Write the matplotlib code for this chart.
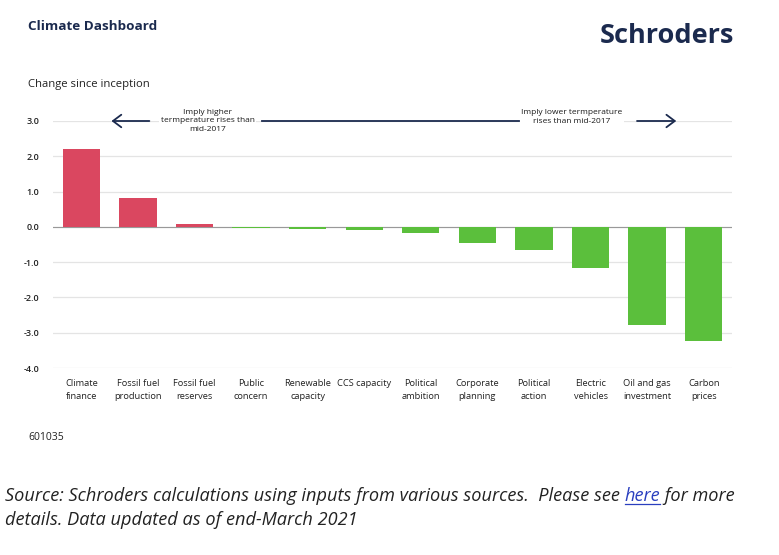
import matplotlib
matplotlib.use("Agg")
import matplotlib.pyplot as plt

categories = ["Climate\nfinance", "Fossil fuel\nproduction", "Fossil fuel\nreserves", "Public\nconcern",
              "Renewable\ncapacity", "CCS capacity", "Political\nambition", "Corporate\nplanning",
              "Political\naction", "Electric\nvehicles", "Oil and gas\ninvestment", "Carbon\nprices"]
values = [2.22, 0.82, 0.085, -0.04, -0.07, -0.10, -0.18, -0.47, -0.66, -1.18, -2.78, -3.24]
yticks = [3.0, 2.0, 1.0, 0.0, -1.0, -2.0, -3.0, -4.0]

RED = "#DA4760"
GREEN = "#5BBF3C"
NAVY = "#1B2A4E"

plt.rcParams['font.family'] = ['Open Sans', 'DejaVu Sans']

W, H = 779, 555
fig = plt.figure(figsize=(W / 100, H / 100), dpi=100)
fig.patch.set_facecolor("white")

def fx(px):
    return px / W

def fy(py):
    return 1 - py / H

ax = fig.add_axes([fx(53), fy(368), fx(732) - fx(53), fy(121) - fy(368)])
x = list(range(len(categories)))
colors = [RED if v > 0 else GREEN for v in values]
ax.bar(x, values, width=0.66, color=colors, zorder=3)
ax.set_xlim(-0.5, len(categories) - 0.5)
ax.set_ylim(-4.0, 3.0)
ax.set_yticks(yticks)
ax.set_yticklabels([f"{t:.1f}" for t in yticks], fontsize=6.5, color="#222222", fontweight="semibold")
ax.set_xticks(x)
ax.set_xticklabels(categories, fontsize=6.7, color="#222222", linespacing=1.5)
ax.tick_params(axis="both", length=0)
ax.tick_params(axis="y", pad=10)
ax.tick_params(axis="x", pad=8)
for s in ax.spines.values():
    s.set_visible(False)
ax.grid(axis="y", color="#E4E4E4", linewidth=0.9, zorder=0)
ax.axhline(0, color="#999999", linewidth=0.8, zorder=2)

# annotation arrows (axes fraction)
tr = ax.transAxes
ax.annotate("", xy=(0.082, 1.0), xytext=(0.146, 1.0), xycoords=tr, textcoords=tr,
            arrowprops=dict(arrowstyle="->,head_length=0.6,head_width=0.45", color=NAVY, lw=1.3),
            annotation_clip=False, zorder=6)
ax.annotate("", xy=(0.922, 1.0), xytext=(0.856, 1.0), xycoords=tr, textcoords=tr,
            arrowprops=dict(arrowstyle="->,head_length=0.6,head_width=0.45", color=NAVY, lw=1.3),
            annotation_clip=False, zorder=6)
ax.plot([0.308, 0.686], [1.0, 1.0], transform=tr, color=NAVY, lw=1.3, clip_on=False, zorder=6)
ax.text(0.228, 1.0, "Imply higher\ntermperature rises than\nmid-2017", transform=tr, ha="center",
        va="center", fontsize=6, color="#1a1a1a", linespacing=1.35, fontweight="medium",
        bbox=dict(facecolor="white", edgecolor="none", pad=1), zorder=7)
ax.text(0.764, 0.983, "Imply lower termperature\nrises than mid-2017", transform=tr, ha="center",
        va="bottom", fontsize=6, color="#1a1a1a", linespacing=1.35, fontweight="medium",
        bbox=dict(facecolor="white", edgecolor="none", pad=1), zorder=7)

fig.text(fx(28), fy(27), "Climate Dashboard", fontsize=9.7, fontweight="bold", color=NAVY,
         ha="left", va="center")
fig.text(fx(734), fy(36), "Schroders", fontsize=19.5, fontweight="bold", color=NAVY,
         ha="right", va="center")
fig.text(fx(28), fy(84), "Change since inception", fontsize=8.1, color="#222222", ha="left", va="center")
fig.text(fx(28), fy(437), "601035", fontsize=7.5, color="#222222", ha="left", va="center")

FS = 13.1
src_kw = dict(fontsize=FS, style="italic", color="#222222", va="center", ha="left")
t1 = fig.text(fx(5), fy(496), "Source: Schroders calculations using inputs from various sources.  Please see ", **src_kw)
fig.canvas.draw()
r = fig.canvas.get_renderer()
bb = t1.get_window_extent(r)
t2 = fig.text(bb.x1 / W, fy(496), "here", fontsize=FS, style="italic", color="#2A3FBF",
              va="center", ha="left")
bb2 = t2.get_window_extent(r)
fig.text(bb2.x1 / W, fy(496), " for more", **src_kw)
fig.add_artist(plt.Line2D([bb2.x0 / W, bb2.x1 / W], [(bb2.y0 + 1) / H, (bb2.y0 + 1) / H],
                          color="#2A3FBF", lw=0.9, transform=fig.transFigure))
fig.text(fx(5), fy(520), "details. Data updated as of end-March 2021", **src_kw)

fig.savefig("out.png", dpi=100, facecolor="white")
